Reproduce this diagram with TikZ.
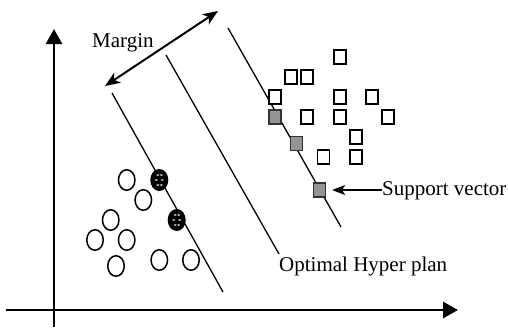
\documentclass[tikz,border=0pt]{standalone}
\usepackage{fontspec}
\setmainfont{Liberation Serif}
\usetikzlibrary{arrows.meta,shapes.geometric}
\begin{document}
\begin{tikzpicture}[x=1pt,y=-1pt,
  axis/.style={line width=2.6pt,-{Triangle[width=16pt,length=15pt]}},
  hyper/.style={line width=1.3pt},
  sq/.style={draw,line width=1.6pt,fill=white,rectangle,minimum width=12pt,minimum height=14pt,inner sep=0pt},
  sqsv/.style={sq,fill=black!42,draw=black!80},
  pt/.style={draw,line width=1.5pt,ellipse,minimum width=16.5pt,minimum height=20.5pt,inner sep=0pt},
  ptsv/.style={pt,fill=black},
  lbl/.style={font=\fontsize{21}{25}\selectfont,inner sep=0pt,anchor=base west},
]
\useasboundingbox (0,0) rectangle (508,327);

% axes
\coordinate (yb) at (54,327);
\coordinate (yt) at (54,29);
\coordinate (xl) at (6,310);
\coordinate (xr) at (458,310);
\draw[axis] (yb) -- (yt);
\draw[axis] (xl) -- (xr);

% the three parallel hyperplanes
\coordinate (h1a) at (112,93);  \coordinate (h1b) at (223,292);
\coordinate (h2a) at (166,55);  \coordinate (h2b) at (279,254);
\coordinate (h3a) at (228,28);  \coordinate (h3b) at (341,227);
\draw[hyper] (h1a) -- (h1b);
\draw[hyper] (h2a) -- (h2b);
\draw[hyper] (h3a) -- (h3b);

% margin arrow
\coordinate (ma) at (105,86);
\coordinate (mb) at (218,11);
\draw[line width=2pt,{Stealth[length=15pt,width=12pt,inset=4pt]}-{Stealth[length=15pt,width=12pt,inset=4pt]}] (ma) -- (mb);
\node[lbl] (margin) at (92,47) {Margin};

% square class
\node[sq] (s1) at (339.7,56.7) {};
\node[sq] (s2) at (290.7,76.7) {};
\node[sq] (s3) at (307,76.7) {};
\node[sq] (s4) at (275,96.7) {};
\node[sq] (s5) at (339.7,96.7) {};
\node[sq] (s6) at (371.7,96.7) {};
\node[sqsv] (s7) at (275,116.7) {};
\node[sq] (s8) at (307,116.7) {};
\node[sq] (s9) at (339.7,116.7) {};
\node[sq] (s10) at (387.7,116.7) {};
\node[sq] (s11) at (355.7,136.7) {};
\node[sqsv] (s12) at (296.3,143.3) {};
\node[sq] (s13) at (323.3,156.7) {};
\node[sq] (s14) at (355.7,156.7) {};
\node[sqsv] (s15) at (319.3,190) {};

% circle class
\node[pt] (c1) at (126.7,180) {};
\node[ptsv] (c2) at (159.3,180) {};
\node[pt] (c3) at (143.3,200) {};
\node[pt] (c4) at (110.7,220) {};
\node[ptsv] (c5) at (176.7,220) {};
\node[pt] (c6) at (95,240) {};
\node[pt] (c7) at (126.7,240) {};
\node[pt] (c8) at (116,266) {};
\node[pt] (c9) at (159.3,260) {};
\node[pt] (c10) at (191,260) {};

% speckles on the circle support vectors
\foreach \c in {c2,c5}{
  \foreach \dx/\dy in {-1.5/-5,2/-5,-3/0,3/0,-1.5/5,2/5}{
    \fill[black!30] ([shift={(\dx,\dy)}]\c.center) ellipse (1.6pt and 1.1pt);
  }
}

% labels
\node[lbl] (sv) at (382,195.5) {Support vector};
\draw[line width=1.6pt,-{Stealth[length=13pt,width=10pt,inset=3pt]},shorten >=6pt] (s15 -| sv.west) -- (s15.east);
\node[lbl] (ohp) at (279,271) {Optimal Hyper plan};
\end{tikzpicture}
\end{document}
